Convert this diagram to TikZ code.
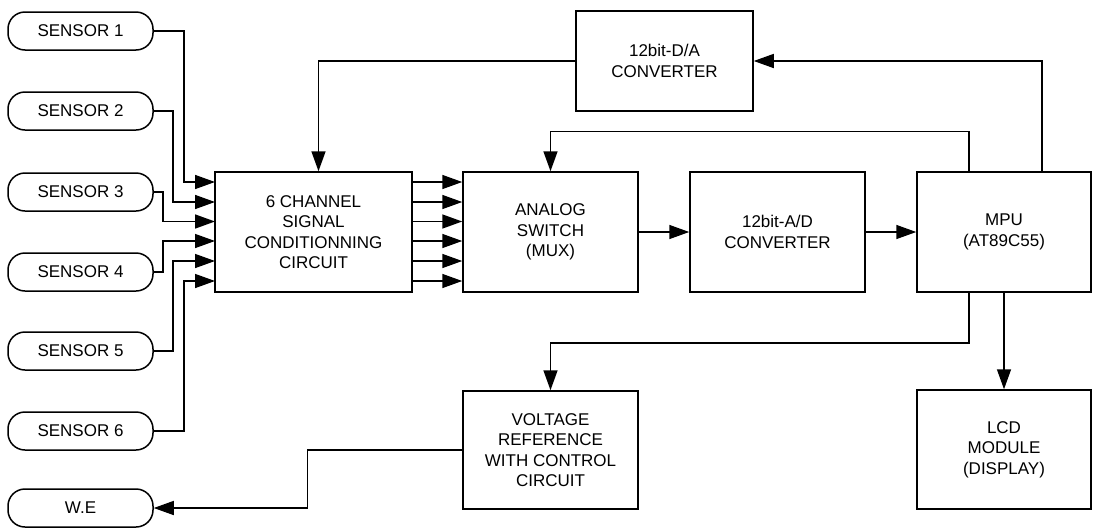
\documentclass[tikz,border=0pt]{standalone}
\usepackage{fontspec}
\setmainfont{Liberation Sans}
\usetikzlibrary{arrows.meta,calc}
\begin{document}
\begin{tikzpicture}[x=1pt,y=-1pt,
  every node/.style={font=\fontsize{17}{20.5}\selectfont, align=center, inner sep=0pt},
  blk/.style={draw, line width=1.5pt, rectangle},
  pill/.style={draw, line width=1.5pt, rounded corners=17pt, minimum width=145pt, minimum height=38pt},
  arr/.style={line width=1.5pt, -{Triangle[length=20pt,width=14pt]}},
  ln/.style={line width=1.5pt}]
\useasboundingbox (0,0) rectangle (1093,528);
% sensors
\node[pill] (s1) at (80.5,31) {SENSOR 1};
\node[pill] (s2) at (80.5,111) {SENSOR 2};
\node[pill] (s3) at (80.5,192) {SENSOR 3};
\node[pill] (s4) at (80.5,272) {SENSOR 4};
\node[pill] (s5) at (80.5,351) {SENSOR 5};
\node[pill] (s6) at (80.5,431) {SENSOR 6};
\node[pill] (we) at (80.5,508) {W.E};
% blocks
\node[blk, minimum width=197pt, minimum height=120pt] (cond) at (313.5,232) {6 CHANNEL\\SIGNAL\\CONDITIONNING\\CIRCUIT};
\node[blk, minimum width=175pt, minimum height=120pt] (mux) at (550.5,232) {ANALOG\\SWITCH\\(MUX)};
\node[blk, minimum width=175pt, minimum height=120pt] (ad) at (777.5,232) {12bit-A/D\\CONVERTER};
\node[blk, minimum width=174pt, minimum height=120pt] (mpu) at (1004,232) {MPU\\(AT89C55)};
\node[blk, minimum width=177pt, minimum height=100pt] (da) at (664.5,61) {12bit-D/A\\CONVERTER};
\node[blk, minimum width=175pt, minimum height=118pt] (vref) at (550.5,450) {VOLTAGE\\REFERENCE\\WITH CONTROL\\CIRCUIT};
\node[blk, minimum width=174pt, minimum height=119pt] (lcd) at (1004,449.5) {LCD\\MODULE\\(DISPLAY)};
% input ports on conditioning circuit
\coordinate (p1) at (215,182);
\coordinate (p2) at (215,202);
\coordinate (p3) at (215,221.5);
\coordinate (p4) at (215,241);
\coordinate (p5) at (215,261);
\coordinate (p6) at (215,281);
\coordinate (j1) at (184,182);
\coordinate (j2) at (173,202);
\coordinate (j3) at (163,221.5);
\coordinate (j4) at (163,241);
\coordinate (j5) at (173,261);
\coordinate (j6) at (184,281);
\draw[arr] (s1.east) -| (j1) -- (p1);
\draw[arr] (s2.east) -| (j2) -- (p2);
\draw[arr] (s3.east) -| (j3) -- (p3);
\draw[arr] (s4.east) -| (j4) -- (p4);
\draw[arr] (s5.east) -| (j5) -- (p5);
\draw[arr] (s6.east) -| (j6) -- (p6);
% conditioning -> mux
\foreach \k in {1,...,6}{
  \draw[arr] (cond.east |- p\k) -- (mux.west |- p\k);
}
\draw[arr] (mux.east) -- (ad.west);
\draw[arr] (ad.east) -- (mpu.west);
% feedback to mux
\draw[arr] ($(mpu.north)+(-35,0)$) -- ++(0,-40) -| (mux.north);
% D/A
\draw[arr] ($(mpu.north)+(38,0)$) |- (da.east);
\draw[arr] (da.west) -| ($(cond.north)+(5,0)$);
% MPU -> LCD
\draw[arr] (mpu.south) -- (lcd.north);
% MPU -> voltage reference
\draw[arr] ($(mpu.south)+(-35,0)$) -- ++(0,50) -| (vref.north);
% voltage reference -> W.E
\draw[arr] (vref.west) -- ++(-155,0) |- (we.east);
\end{tikzpicture}
\end{document}
